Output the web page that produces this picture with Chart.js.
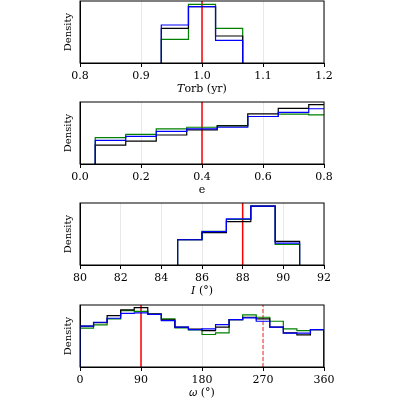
<!DOCTYPE html><html><head><script src="https://cdn.jsdelivr.net/npm/chart.js"></script>
<style>body{margin:0;width:400px;height:400px;background:#fff;position:relative;overflow:hidden}canvas{position:absolute;left:0}</style></head><body>
<canvas id="c0" style="top:0px"></canvas><canvas id="c1" style="top:101px"></canvas><canvas id="c2" style="top:202px"></canvas><canvas id="c3" style="top:304px"></canvas>
<script>
const edges1=[0.9333,0.9778,1.0222,1.0667];
const blue1=[114,169,68], black1=[104,169,81], green1=[71,176,104];
const edges2=[0.05,0.15,0.25,0.35,0.45,0.55,0.65,0.75,0.85];
const blue2=[70,82,97,104,109,141,153,164], black2=[56,68,86,101,113,149,165,176], green2=[78,88,104,109,114,141,148,146];
const edges3=[84.8,86.0,87.2,88.4,89.6,90.8];
const blue3=[75,99,137,175,65], black3=[75,96,129,175,70], green3=[75,100,135,175,61];
const edges4=[0,20,40,60,80,100,120,140,160,180,200,220,240,260,280,300,320,340,360];
const blueY4=[377,365,353,338,337,341,360,380,387,385,372,357,352,362,380,398,398,387];
const blackY4=[377,366,345,328,321,340,358,380,386,390,380,357,350,355,380,397,403,387];
const greenY4=[383,373,355,330,332,341,355,382,388,402,397,357,343,350,362,385,390,387];
const blue4=blueY4.map(v=>500-v), black4=blackY4.map(v=>500-v), green4=greenY4.map(v=>500-v);
function step(e,h){const p=[{x:e[0],y:0}];h.forEach((v,i)=>{p.push({x:e[i],y:v});p.push({x:e[i+1],y:v});});p.push({x:e[e.length-1],y:0});return p;}
function vline(x,ymax,col,dash){return{data:[{x:x,y:0},{x:x,y:ymax}],borderColor:col,borderWidth:1.5,borderDash:dash||[],pointRadius:0};}
const F="'DejaVu Serif','Liberation Serif',serif";
const frame={id:'frame',afterDraw(c){const a=c.chartArea,x=c.ctx;x.save();x.strokeStyle='#000';x.lineWidth=1;x.strokeRect(a.left,a.top,a.right-a.left,a.bottom-a.top);x.restore();}};
function make(id,edges,b,k,g,ymax,xmin,xmax,stepSize,dec,title,lines){
 const h=100;
 const el=document.getElementById(id);el.width=400;el.height=h;el.style.width='400px';el.style.height=h+'px';
 const ds=[{data:step(edges,b),borderColor:'#0000ff'},{data:step(edges,k),borderColor:'#000'},{data:step(edges,g),borderColor:'#008000'}].map(d=>Object.assign(d,{borderWidth:1.2,pointRadius:0,fill:false,tension:0}));
 lines.forEach(l=>ds.push(vline(l[0],ymax,l[1],l[2])));
 new Chart(el,{type:'line',data:{datasets:ds},plugins:[frame],options:{responsive:false,animation:false,devicePixelRatio:1,
  layout:{padding:{top:1,right:76,left:58,bottom:0}},plugins:{legend:{display:false},tooltip:{enabled:false}},
  scales:{x:{type:'linear',min:xmin,max:xmax,afterFit:s=>{s.height=h-63},ticks:{stepSize:stepSize,color:'#000',font:{family:F,size:11},callback:v=>dec>=0?Number(v).toFixed(dec):v,maxRotation:0},
   grid:{color:'#e8e8e8',tickColor:'#000',tickLength:4},border:{color:'#000'},title:{display:true,text:title,color:'#000',font:{family:F,size:11},padding:{top:0}}},
   y:{min:0,max:ymax,afterFit:s=>{s.width=22},ticks:{display:false},grid:{display:false},border:{color:'#000'},title:{display:true,text:'Density',color:'#000',font:{family:F,size:10}}}}}});
}
make('c0',edges1,blue1,black1,green1,186,0.8,1.2,0.1,1,'𝑇orb (yr)',[[1.0,'#ff0000']]);
make('c1',edges2,blue2,black2,green2,184,0,0.8,0.2,1,'e',[[0.4,'#ff0000']]);
make('c2',edges3,blue3,black3,green3,184,80,92,2,-1,'𝐼 (°)',[[88,'#ff0000']]);
make('c3',edges4,blue4,black4,green4,187,0,360,90,-1,'𝜔 (°)',[[90,'#ff0000'],[270,'#f07070',[4,2]]]);
</script></body></html>
